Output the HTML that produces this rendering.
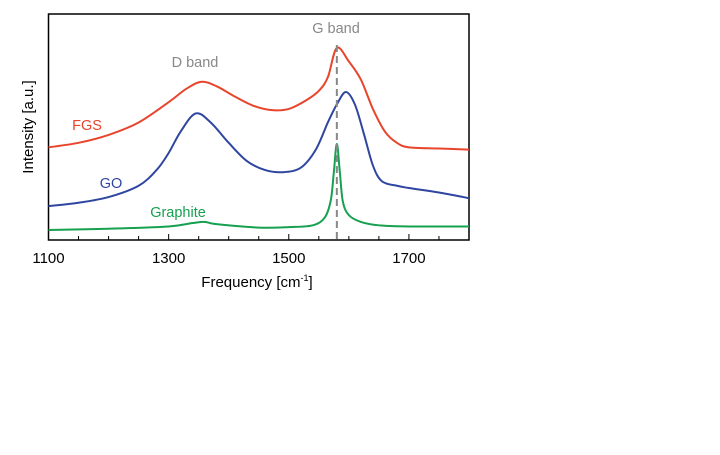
<!DOCTYPE html>
<html><head><meta charset="utf-8"><style>
body{margin:0;background:#fff;width:720px;height:450px;overflow:hidden}
text{font-family:"Liberation Sans",Arial,sans-serif}
</style></head><body>
<svg width="720" height="450">
<g id="axes"></g><g id="series"></g>
<line id="gline" stroke="#888" stroke-width="2" stroke-dasharray="7,4"/>
<text x="336" y="33" font-size="14.5" fill="#888" text-anchor="middle">G band</text>
<text x="195" y="67" font-size="14.5" fill="#888" text-anchor="middle">D band</text>
<text x="87" y="130" font-size="14.5" fill="#e8452c" text-anchor="middle">FGS</text>
<text x="111" y="188" font-size="14.5" fill="#2f46a0" text-anchor="middle">GO</text>
<text x="178" y="217" font-size="14.5" fill="#16a050" text-anchor="middle">Graphite</text>
<text x="257" y="287" font-size="15" text-anchor="middle">Frequency [cm<tspan font-size="9" dy="-6">-1</tspan><tspan dy="6">]</tspan></text>
<text transform="translate(33,127) rotate(-90)" font-size="15" text-anchor="middle">Intensity [a.u.]</text>
</svg>
<script>
const xTicks=[1100,1300,1500,1700];
const fgsX=[1100,1150,1200,1250,1300,1330,1355,1380,1410,1440,1470,1500,1530,1550,1565,1580,1600,1620,1640,1660,1680,1700,1750,1800];
const fgsY=[41,43,46.5,52,61,67,70,68,63.5,59.5,57.5,58,62,66,72,85,79,71,58,48,43,41,40.5,40];
const goX=[1100,1150,1200,1250,1280,1300,1320,1345,1370,1400,1430,1460,1490,1520,1545,1565,1580,1595,1610,1625,1640,1655,1680,1700,1750,1800];
const goY=[15,16.5,19,24,31,38.5,48,56,52,43,35,31,30,32,40,52,60,65.5,60,47,33,26,24,23,21,18.5];
const grX=[1100,1200,1300,1340,1360,1380,1450,1500,1540,1560,1570,1575,1580,1585,1590,1600,1620,1650,1700,1800];
const grY=[4.4,5,6,7.5,8,7,5.5,5.7,6.5,10,17.7,30,42.5,30,17,11,8,6.5,6,6];
const gBand=1580;
const L=48.5,R=469,T=14,B=240;
const sx=v=>L+(v-1100)/(1800-1100)*(R-L);
const sy=v=>B-v/100*(B-T);
const NS='http://www.w3.org/2000/svg';
function mk(t,a,p){const e=document.createElementNS(NS,t);for(const k in a)e.setAttribute(k,a[k]);p.appendChild(e);return e;}
const ax=document.getElementById('axes');
const box=mk('rect',{x:L,y:T,width:R-L,height:B-T,fill:'none',stroke:'#000','stroke-width':1.5},ax);


for(let v=1150;v<1800;v+=50){const major=xTicks.includes(v);
const tk=mk('line',{x1:sx(v),x2:sx(v),y1:B,y2:B-(major?6:4),stroke:'#000','stroke-width':1},ax);

}
xTicks.forEach(v=>{const t=mk('text',{x:sx(v),y:263,'font-size':15,'text-anchor':'middle'},ax);t.textContent=v;

});
function smooth(xs,ys){const p=xs.map((x,i)=>[sx(x),sy(ys[i])]);let d='M'+p[0].join(',');
for(let i=0;i<p.length-1;i++){const p0=p[i-1]||p[i],p1=p[i],p2=p[i+1],p3=p[i+2]||p2;
const c1=[p1[0]+(p2[0]-p0[0])/6,p1[1]+(p2[1]-p0[1])/6],c2=[p2[0]-(p3[0]-p1[0])/6,p2[1]-(p3[1]-p1[1])/6];
d+=' C'+c1.join(',')+' '+c2.join(',')+' '+p2.join(',');}return d;}
const sg=document.getElementById('series');
[[fgsX,fgsY,'#e8452c','fgs-line'],[goX,goY,'#2f46a0','go-line'],[grX,grY,'#16a050','graphite-line']].forEach(s=>{
const p=mk('path',{d:smooth(s[0],s[1]),fill:'none',stroke:s[2],'stroke-width':2},sg);

});
const g=document.getElementById('gline');
g.setAttribute('x1',sx(gBand));g.setAttribute('x2',sx(gBand));g.setAttribute('y1',45);g.setAttribute('y2',B);
</script>
</body></html>
